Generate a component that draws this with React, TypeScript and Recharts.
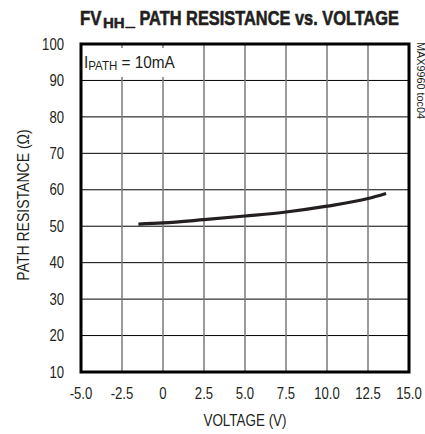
import React from "react";
import { LineChart, Line, XAxis, YAxis, CartesianGrid, ReferenceArea } from "recharts";

const voltages = [-1.5, 0, 2.5, 5.0, 7.5, 10.0, 12.5, 13.6];
const resistance = [50.6, 50.9, 51.8, 52.8, 53.9, 55.5, 57.6, 59.0];
const xTicks = [-5, -2.5, 0, 2.5, 5, 7.5, 10, 12.5, 15];
const yTicks = [10, 20, 30, 40, 50, 60, 70, 80, 90, 100];

const data = voltages.map((v, i) => ({ v, r: resistance[i] }));

const FONT = "'Liberation Sans', Arial, sans-serif";
const INK = "#231f20";
const SQUEEZE = 0.82;

const fmtX = (t: number) => (t === 0 ? "0" : t.toFixed(1));

const squeeze = (k: number, origin: string): React.CSSProperties => ({
  transform: `scaleX(${k})`,
  transformBox: "fill-box",
  transformOrigin: origin,
});

const XTick = (props: any) => {
  const { x, y, payload } = props;
  return (
    <text
      x={x}
      y={y}
      dy="0.71em"
      textAnchor="middle"
      fontFamily={FONT}
      fontSize={16}
      fill={INK}
      style={squeeze(SQUEEZE, "center")}
    >
      {fmtX(payload.value)}
    </text>
  );
};

const YTick = (props: any) => {
  const { x, y, payload } = props;
  return (
    <text
      x={x}
      y={y}
      dy="0.355em"
      textAnchor="end"
      fontFamily={FONT}
      fontSize={16}
      fill={INK}
      style={squeeze(SQUEEZE, "right center")}
    >
      {String(payload.value)}
    </text>
  );
};

export default function App() {
  return (
    <div style={{ position: "absolute", left: 0, top: 0, width: 425, height: 434, background: "#fff" }}>
      <LineChart width={425} height={434} data={data} margin={{ top: 44, right: 16, bottom: 0, left: 0 }}>
        <CartesianGrid horizontal={true} vertical={false} stroke="#000" strokeWidth={1} />
        <CartesianGrid horizontal={false} vertical={true} stroke="#7a7a7a" strokeWidth={1.5} />
        <XAxis
          type="number"
          dataKey="v"
          domain={[-5, 15]}
          ticks={xTicks}
          height={62}
          axisLine={false}
          tickLine={false}
          tickSize={0}
          tickMargin={16}
          interval={0}
          tick={<XTick />}
        />
        <YAxis
          type="number"
          domain={[10, 100]}
          ticks={yTicks}
          width={81}
          axisLine={false}
          tickLine={false}
          tickSize={0}
          tickMargin={17}
          interval={0}
          tick={<YTick />}
        />
        <Line
          type="monotone"
          dataKey="r"
          stroke={INK}
          strokeWidth={3.2}
          dot={false}
          isAnimationActive={false}
        />
        <ReferenceArea x1={-5} x2={15} y1={10} y2={100} fill="none" stroke="#000" strokeWidth={3} />
      </LineChart>
      <svg
        width={425}
        height={434}
        style={{ position: "absolute", left: 0, top: 0, pointerEvents: "none" }}
      >
        <text
          x={80}
          y={25}
          fontFamily={FONT}
          fontWeight="bold"
          fontSize={21}
          fill={INK}
          stroke={INK}
          strokeWidth={0.6}
          style={squeeze(0.8, "left center")}
        >
          FV
        </text>
        <text
          x={103}
          y={28}
          fontFamily={FONT}
          fontWeight="bold"
          fontSize={15}
          fill={INK}
          stroke={INK}
          strokeWidth={0.5}
          style={squeeze(1.0, "left center")}
        >
          HH
        </text>
        <text
          x={126}
          y={25}
          fontFamily={FONT}
          fontWeight="bold"
          fontSize={21}
          fill={INK}
          stroke={INK}
          strokeWidth={0.6}
          style={squeeze(0.78, "left center")}
        >
          _ PATH RESISTANCE vs. VOLTAGE
        </text>
        <rect x={83} y={48} width={102} height={29} fill="#fff" />
        <text
          x={84}
          y={68}
          fontFamily={FONT}
          fontSize={16}
          fill={INK}
          style={squeeze(0.96, "left center")}
        >
          I
          <tspan fontSize={12} dy={2}>PATH</tspan>
          <tspan dy={-2}> = 10mA</tspan>
        </text>
        <text
          x={245}
          y={426}
          textAnchor="middle"
          fontFamily={FONT}
          fontSize={16}
          fill={INK}
          style={squeeze(0.84, "center")}
        >
          VOLTAGE (V)
        </text>
        <g transform="translate(29,205) rotate(-90)">
          <text
            x={0}
            y={0}
            textAnchor="middle"
            fontFamily={FONT}
            fontSize={16.5}
            fill={INK}
            style={squeeze(0.85, "center")}
          >
            PATH RESISTANCE (Ω)
          </text>
        </g>
        <g transform="translate(417,42) rotate(90)">
          <text
            x={0}
            y={0}
            fontFamily={FONT}
            fontSize={10}
            fill={INK}
            textLength={77}
            lengthAdjust="spacingAndGlyphs"
          >
            MAX9960 toc04
          </text>
        </g>
      </svg>
    </div>
  );
}
